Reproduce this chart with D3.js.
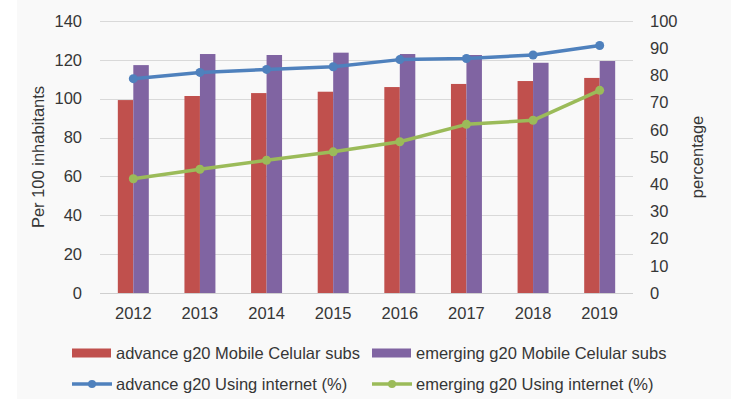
<!DOCTYPE html>
<html>
<head>
<meta charset="utf-8">
<script src="https://cdn.jsdelivr.net/npm/d3@7"></script>
<style>
    body { margin: 0; background: #ffffff; }
    #chart { width: 731px; height: 404px; }
    text { font-family: "Liberation Sans", Arial, sans-serif; fill: #363636; }
</style>
</head>
<body>
<div id="chart"></div>
<script>
// values
const years = ["2012", "2013", "2014", "2015", "2016", "2017", "2018", "2019"];
const advanceMobile = [99.3, 101.4, 102.9, 103.6, 106.0, 107.6, 109.1, 110.7];
const emergingMobile = [117.3, 123.0, 122.5, 123.7, 123.0, 122.5, 118.5, 119.4];
const advanceInternet = [78.8, 81.1, 82.2, 83.2, 85.8, 86.2, 87.5, 91.0];
const emergingInternet = [42.0, 45.5, 48.8, 51.9, 55.6, 62.0, 63.5, 74.5];
const leftTicks = [0, 20, 40, 60, 80, 100, 120, 140];
const rightTicks = [0, 10, 20, 30, 40, 50, 60, 70, 80, 90, 100];

const barSeries = [
    {name: "advance g20 Mobile Celular subs", values: advanceMobile, color: "#C0504D"},
    {name: "emerging g20 Mobile Celular subs", values: emergingMobile, color: "#8064A2"}
];
const lineSeries = [
    {name: "advance g20 Using internet (%)", values: advanceInternet, color: "#4F81BD"},
    {name: "emerging g20 Using internet (%)", values: emergingInternet, color: "#9BBB59"}
];

const FONT_SIZE = "16.5px";

class ComboChart {
    constructor(parentElement) {
        this.parentElement = parentElement;
        this.initVis();
    }

    initVis() {
        let vis = this;

        vis.margin = {top: 21, right: 98, bottom: 111, left: 100};
        vis.outerWidth = 731;
        vis.outerHeight = 404;
        vis.width = vis.outerWidth - vis.margin.left - vis.margin.right;
        vis.height = vis.outerHeight - vis.margin.top - vis.margin.bottom;

        vis.root = d3.select("#" + vis.parentElement).append("svg")
            .attr("width", vis.outerWidth)
            .attr("height", vis.outerHeight);

        // light grey chart background
        vis.root.append("rect")
            .attr("x", 17)
            .attr("y", 0)
            .attr("width", vis.outerWidth - 17)
            .attr("height", 399)
            .attr("fill", "#f9f9f9");

        vis.svg = vis.root.append("g")
            .attr("transform", `translate(${vis.margin.left}, ${vis.margin.top})`);

        vis.x = d3.scaleBand()
            .domain(years)
            .range([0, vis.width])
            .paddingInner(0.535)
            .paddingOuter(0.2675);

        vis.xSub = d3.scaleBand()
            .domain([0, 1])
            .range([0, vis.x.bandwidth()]);

        vis.yLeft = d3.scaleLinear().domain([0, 140]).range([vis.height, 0]);
        vis.yRight = d3.scaleLinear().domain([0, 100]).range([vis.height, 0]);

        vis.updateVis();
    }

    updateVis() {
        let vis = this;

        // gridlines follow the left axis
        vis.svg.append("g")
            .selectAll("line")
            .data(leftTicks)
            .join("line")
            .attr("x1", 0)
            .attr("x2", vis.width)
            .attr("y1", d => Math.round(vis.yLeft(d)) + 0.5)
            .attr("y2", d => Math.round(vis.yLeft(d)) + 0.5)
            .attr("stroke", d => d === 0 ? "#cfcfcf" : "#d9d9d9")
            .attr("stroke-width", 1);

        // bars
        let groups = vis.svg.selectAll(".year")
            .data(years)
            .join("g")
            .attr("class", "year")
            .attr("transform", d => `translate(${vis.x(d)}, 0)`);

        groups.selectAll("rect")
            .data((d, i) => barSeries.map((s, k) => ({k: k, value: s.values[i], color: s.color})))
            .join("rect")
            .attr("x", d => vis.xSub(d.k))
            .attr("width", vis.xSub.bandwidth())
            .attr("y", d => vis.yLeft(d.value))
            .attr("height", d => vis.height - vis.yLeft(d.value))
            .attr("fill", d => d.color);

        // lines on the right axis
        let line = d3.line()
            .x((d, i) => vis.x(years[i]) + vis.x.bandwidth() / 2)
            .y(d => vis.yRight(d));

        lineSeries.forEach(s => {
            vis.svg.append("path")
                .datum(s.values)
                .attr("d", line)
                .attr("fill", "none")
                .attr("stroke", s.color)
                .attr("stroke-width", 3.5)
                .attr("stroke-linejoin", "round");

            vis.svg.append("g")
                .selectAll("circle")
                .data(s.values)
                .join("circle")
                .attr("cx", (d, i) => vis.x(years[i]) + vis.x.bandwidth() / 2)
                .attr("cy", d => vis.yRight(d))
                .attr("r", 4.5)
                .attr("fill", s.color);
        });

        // axes
        let leftAxis = vis.svg.append("g")
            .call(d3.axisLeft(vis.yLeft).tickValues(leftTicks).tickSize(0).tickPadding(18));
        let rightAxis = vis.svg.append("g")
            .attr("transform", `translate(${vis.width}, 0)`)
            .call(d3.axisRight(vis.yRight).tickValues(rightTicks).tickSize(0).tickPadding(17));
        let bottomAxis = vis.svg.append("g")
            .attr("transform", `translate(0, ${vis.height})`)
            .call(d3.axisBottom(vis.x).tickSize(0).tickPadding(14));

        [leftAxis, rightAxis, bottomAxis].forEach(a => {
            a.select(".domain").remove();
            a.selectAll("text")
                .style("font-family", "'Liberation Sans', Arial, sans-serif")
                .style("font-size", FONT_SIZE)
                .attr("fill", "#363636");
        });

        // axis titles
        vis.root.append("text")
            .attr("transform", `translate(44, ${vis.margin.top + vis.height / 2}) rotate(-90)`)
            .attr("text-anchor", "middle")
            .attr("font-size", FONT_SIZE)
            .text("Per 100 inhabitants");

        vis.root.append("text")
            .attr("transform", `translate(703, ${vis.margin.top + vis.height / 2}) rotate(-90)`)
            .attr("text-anchor", "middle")
            .attr("font-size", FONT_SIZE)
            .text("percentage");

        // legend, two rows
        let legendPos = [[72, 353], [372, 353]];
        barSeries.forEach((s, i) => {
            let g = vis.root.append("g").attr("transform", `translate(${legendPos[i][0]}, ${legendPos[i][1]})`);
            g.append("rect")
                .attr("x", 0).attr("y", -4.5)
                .attr("width", 39).attr("height", 9)
                .attr("fill", s.color);
            g.append("text")
                .attr("x", 44).attr("y", 0)
                .attr("dy", "0.35em")
                .attr("font-size", FONT_SIZE)
                .text(s.name);
        });

        let legendPos2 = [[72, 384], [372, 384]];
        lineSeries.forEach((s, i) => {
            let g = vis.root.append("g").attr("transform", `translate(${legendPos2[i][0]}, ${legendPos2[i][1]})`);
            g.append("line")
                .attr("x1", 0).attr("x2", 40)
                .attr("stroke", s.color)
                .attr("stroke-width", 3.5);
            g.append("circle")
                .attr("cx", 20).attr("r", 4)
                .attr("fill", s.color);
            g.append("text")
                .attr("x", 44).attr("y", 0)
                .attr("dy", "0.35em")
                .attr("font-size", FONT_SIZE)
                .text(s.name);
        });
    }
}

new ComboChart("chart");
</script>
</body>
</html>
